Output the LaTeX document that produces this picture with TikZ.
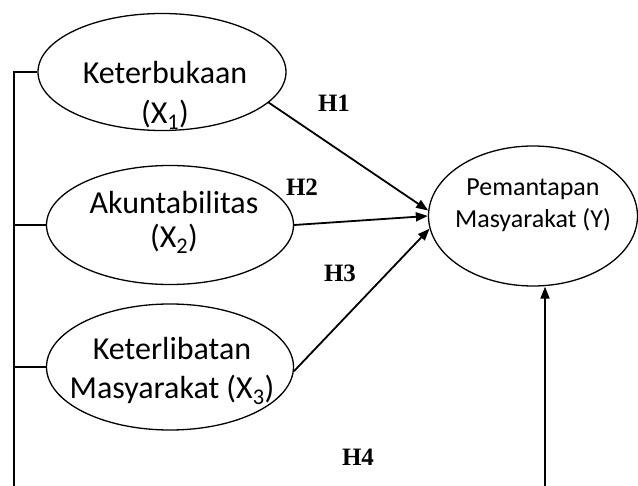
\documentclass[tikz,border=0pt]{standalone}
\usepackage{fontspec}
\setmainfont{Carlito}
\newfontfamily\hypfont{Liberation Serif}
\usetikzlibrary{shapes.geometric,arrows.meta,calc}

\begin{document}
\begin{tikzpicture}[x=1pt, y=-1pt,
    latent/.style={draw, ellipse, line width=1.3pt, inner sep=0pt},
    vartext/.style={align=center, inner sep=0pt, font=\fontsize{32}{40}\selectfont},
    hyp/.style={inner sep=0pt, font=\hypfont\bfseries\fontsize{25}{28}\selectfont},
    hyparrow/.style={line width=1.8pt, -{Triangle[length=12pt,width=9pt]}},
    bus/.style={line width=1.8pt}]
  \useasboundingbox (0,0) rectangle (638,486);

  % independent variables
  \node[latent, minimum width=248pt, minimum height=117pt,
    label={[vartext, xshift=3pt, yshift=-23pt]center:Keterbukaan\\(X\textsubscript{1})}] (keterbukaan) at (162,72) {};
  \node[latent, minimum width=247pt, minimum height=119pt,
    label={[vartext, font=\fontsize{32}{34}\selectfont, xshift=4pt, yshift=3pt]center:Akuntabilitas\\(X\textsubscript{2})}] (akuntabilitas) at (170,225) {};
  \node[latent, minimum width=247pt, minimum height=126pt,
    label={[vartext, font=\fontsize{32}{39}\selectfont, xshift=2pt, yshift=-4pt]center:Keterlibatan\\Masyarakat (X\textsubscript{3})}] (keterlibatan) at (170,367) {};

  % dependent variable
  \node[latent, minimum width=209pt, minimum height=140pt,
    label={[vartext, font=\fontsize{26}{32}\selectfont, yshift=11pt]center:Pemantapan\\Masyarakat (Y)}] (pemantapan) at (533,216) {};

  % bus on the left
  \coordinate (bustop) at (14,76);
  \coordinate (busbottom) at (14,486);
  \draw[bus] (keterbukaan.west) -- (keterbukaan.west -| bustop) -- (busbottom);
  \draw[bus] (akuntabilitas.west) -- (akuntabilitas.west -| bustop);
  \draw[bus] (keterlibatan.west) -- (keterlibatan.west -| bustop);

  % hypotheses
  \draw[hyparrow] (keterbukaan.-16) -- (pemantapan.177);
  \draw[hyparrow] (akuntabilitas.east) -- (pemantapan.west);
  \draw[hyparrow] (keterlibatan.-2) -- (pemantapan.187);
  \coordinate (h4start) at (545,486);
  \draw[hyparrow] (h4start) -- (pemantapan.south -| h4start);

  \node[hyp] (h1) at (334,103) {H1};
  \node[hyp] (h2) at (302,187) {H2};
  \node[hyp] (h3) at (340,273) {H3};
  \node[hyp] (h4) at (358,457) {H4};
\end{tikzpicture}
\end{document}
